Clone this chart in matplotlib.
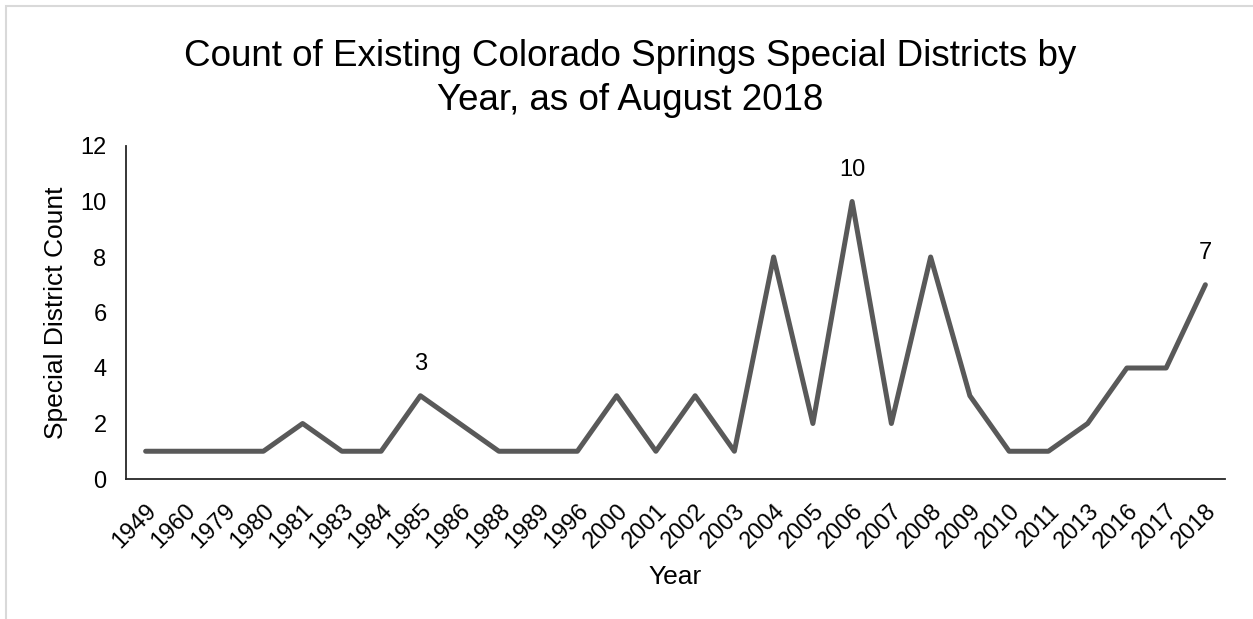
import matplotlib
matplotlib.use('Agg')
import matplotlib.pyplot as plt
from matplotlib.patches import Rectangle

plt.rcParams['font.family'] = ['Liberation Sans', 'DejaVu Sans']

years = ['1949', '1960', '1979', '1980', '1981', '1983', '1984', '1985', '1986', '1988',
         '1989', '1996', '2000', '2001', '2002', '2003', '2004', '2005', '2006', '2007',
         '2008', '2009', '2010', '2011', '2013', '2016', '2017', '2018']
counts = [1, 1, 1, 1, 2, 1, 1, 3, 2, 1,
          1, 1, 3, 1, 3, 1, 8, 2, 10, 2,
          8, 3, 1, 1, 2, 4, 4, 7]
labelled = ['1985', '2006', '2018']

W, H = 1253, 619
fig = plt.figure(figsize=(W / 100, H / 100), dpi=100)
ax = fig.add_axes([126 / W, 1 - 479 / H, (1225 - 126) / W, (479 - 146) / H])

x = list(range(len(years)))
ax.plot(x, counts, color='#595959', linewidth=3.6, solid_joinstyle='round', solid_capstyle='round')

for i, y in enumerate(years):
    if y in labelled:
        ax.annotate(str(counts[i]), (i, counts[i]), xytext=(0, 23), textcoords='offset points',
                    ha='center', va='center', fontsize=17)

ax.set_xlim(-0.5, len(years) - 0.5)
ax.set_ylim(0, 12)
ax.set_yticks(range(0, 13, 2))
ax.set_xticks(x)
ax.set_xticklabels(years, rotation=45, ha='right', va='top', rotation_mode='anchor')
ax.tick_params(length=0, labelsize=17)
ax.tick_params(axis='y', pad=14)
ax.tick_params(axis='x', pad=15)

for s in ['top', 'right']:
    ax.spines[s].set_visible(False)
for s in ['left', 'bottom']:
    ax.spines[s].set_linewidth(1.3)
    ax.spines[s].set_color('#262626')

ax.set_xlabel('Year', fontsize=19, va='center')
ax.xaxis.set_label_coords(0.5, (479 - 577) / 333)
ax.set_ylabel('Special District Count', fontsize=19, va='center')
ax.yaxis.set_label_coords((56 - 126) / 1099, 0.5)

fig.text(630 / W, 1 - 66 / H, 'Count of Existing Colorado Springs Special Districts by',
         ha='center', va='baseline', fontsize=26.5)
fig.text(630 / W, 1 - 110 / H, 'Year, as of August 2018',
         ha='center', va='baseline', fontsize=26.5)

fig.patches.append(Rectangle((6 / W, -0.1), 1.2, 1 - 6 / H + 0.1, transform=fig.transFigure,
                             fill=False, edgecolor='#d9d9d9', linewidth=1.5))

fig.savefig('out.png', dpi=100)
